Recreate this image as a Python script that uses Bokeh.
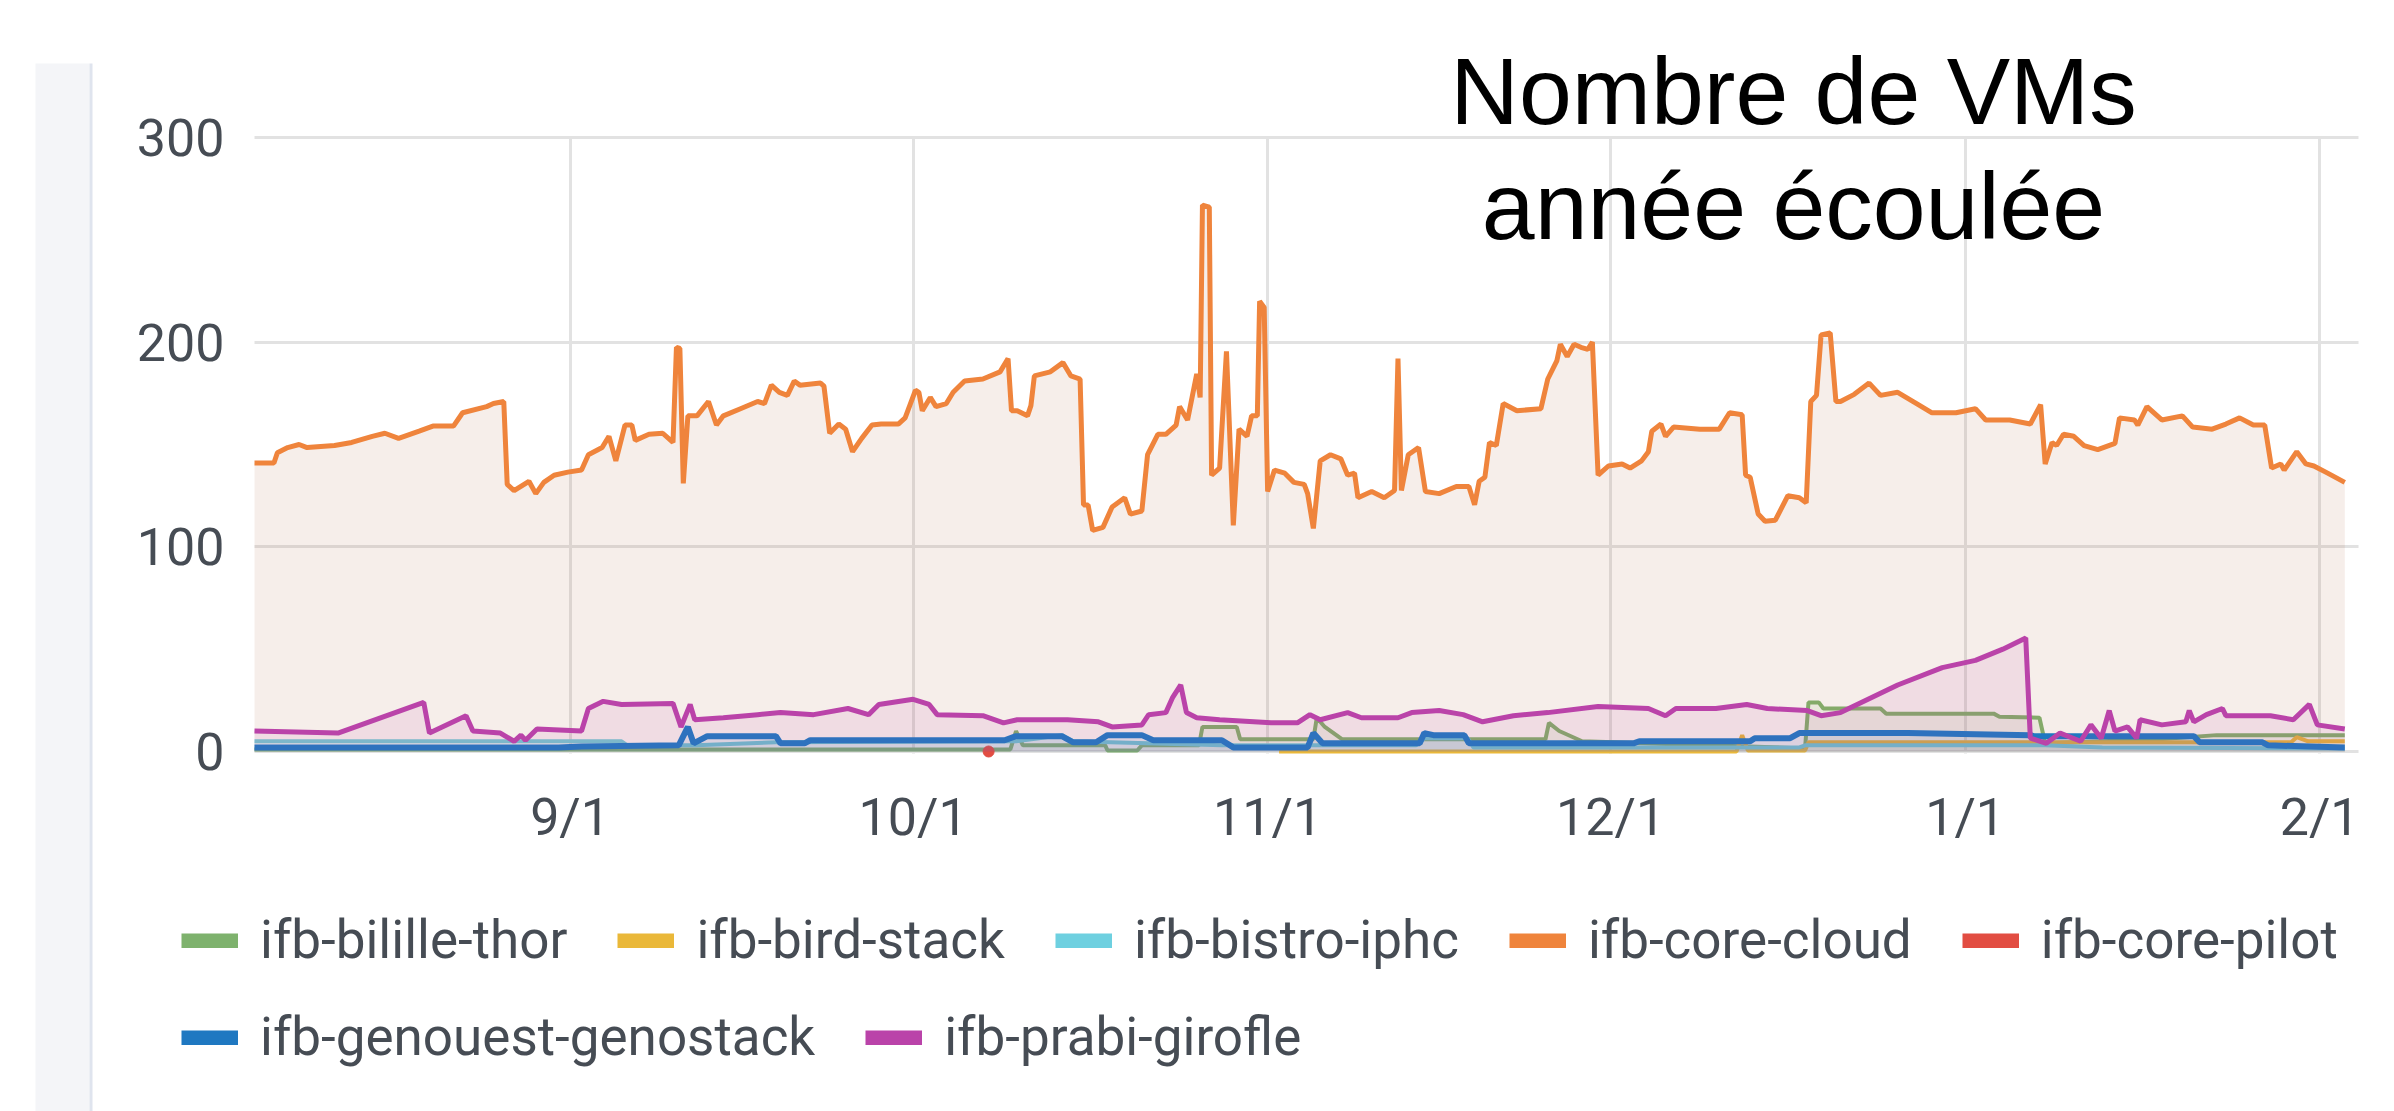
from bokeh.plotting import figure
from bokeh.models import Range1d, FixedTicker, Legend, LegendItem, Label, BoxAnnotation
from bokeh.embed import file_html
from bokeh.resources import INLINE

# x = days since Aug 1 (month starts used as ticks)
tick_days = [31, 61, 92, 122, 153, 184]
tick_labels = ["9/1", "10/1", "11/1", "12/1", "1/1", "2/1"]
y_ticks = [0, 100, 200, 300]

names = ["ifb-bilille-thor", "ifb-bird-stack", "ifb-bistro-iphc", "ifb-core-cloud",
         "ifb-core-pilot", "ifb-genouest-genostack", "ifb-prabi-girofle"]
colors = ["#7EB26D", "#EAB839", "#6ED0E0", "#EF843C", "#E24D42", "#1F78C1", "#BA43A9"]

bilille_t = [3.4, 69.5, 70.0, 70.6, 77.8, 78.0, 80.6, 81.0, 86.0, 86.3, 89.3, 89.6, 96.0, 96.3, 97.0,
             98.5, 116.3, 116.6, 117.5, 119.5, 139.0, 139.3, 140.2, 140.6, 145.6, 146.1, 155.5,
             156.0, 159.5, 160.0, 170.0, 175.0, 186.2]
bilille_v = [1, 1, 10, 3, 3, 0.5, 0.5, 3, 3, 12, 12, 6, 6, 16.5, 12,
             6, 6, 14, 10, 5, 1.5, 24, 24, 21, 21, 18.5, 18.5,
             17, 16.5, 4, 6, 8, 8]

bird_t = [93.0, 133.0, 133.5, 134.0, 139.0, 139.3, 181.5, 182.0, 183.0, 186.2]
bird_v = [0, 0, 8, 0.5, 0.5, 4.5, 4.5, 7, 5, 5]

bistro_t = [3.4, 35.5, 36.0, 42.0, 49.0, 70.0, 72.0, 74.0, 75.0, 88.0, 105.0, 105.7, 109.5, 110.0,
            138.5, 139.0, 160.0, 165.0, 186.2]
bistro_v = [5, 5, 3, 3, 4.5, 5, 6.5, 8, 5, 3, 3, 6.5, 6.5, 2,
            2, 3, 3, 2, 1.5]

core_cloud_t = [3.4, 5.1, 5.4, 6.3, 7.3, 8.0, 10.4, 11.9, 13.7, 14.8, 16.0, 17.8, 19.0, 20.8, 21.6,
                23.7, 24.3, 25.2, 25.5, 26.1, 27.4, 28.0, 28.7, 29.6, 30.8, 32.0, 32.6, 33.8, 34.4,
                35.0, 35.8, 36.4, 36.7, 37.9, 39.1, 40.0, 40.3, 40.6, 40.9, 41.3, 42.1, 43.1, 43.8,
                44.4, 45.9, 47.4, 48.0, 48.6, 49.3, 50.0, 50.6, 51.1, 52.9, 53.2, 53.7, 54.5, 55.1,
                55.7, 56.5, 57.4, 58.2, 59.7, 60.3, 61.2, 61.5, 61.8, 62.5, 63.0, 63.9, 64.5, 65.5,
                67.1, 68.6, 69.3, 69.6, 70.1, 71.0, 71.3, 71.6, 73.0, 74.1, 74.8, 75.6, 75.9, 76.3,
                76.7, 77.6, 78.4, 79.5, 80.0, 81.0, 81.5, 82.4, 83.1, 84.0, 84.3, 85.0, 85.8, 86.1,
                86.3, 86.9, 87.1, 87.8, 88.4, 89.0, 89.5, 90.2, 90.6, 91.1, 91.3, 91.7, 92.0, 92.6,
                93.5, 94.3, 95.2, 95.5, 96.0, 96.6, 97.5, 98.4, 99.0, 99.6, 99.9, 101.1, 102.2, 103.1,
                103.4, 103.7, 104.3, 105.2, 105.8, 107.0, 108.5, 109.6, 110.1, 110.5, 111.0, 111.4,
                112.0, 112.6, 113.8, 115.9, 116.5, 117.3, 117.6, 118.2, 118.8, 119.4, 120.0, 120.4,
                120.9, 121.8, 123.0, 123.7, 124.7, 125.3, 125.6, 126.4, 126.8, 127.5, 129.8, 131.5,
                132.4, 133.5, 133.8, 134.2, 134.9, 135.5, 136.4, 137.5, 138.5, 139.1, 139.5, 140.0,
                140.4, 141.2, 141.7, 142.1, 143.3, 144.6, 145.6, 147.1, 148.9, 150.1, 152.2, 153.9,
                154.8, 156.9, 158.7, 159.6, 160.0, 160.6, 161.0, 161.6, 162.5, 163.4, 164.6, 166.1,
                166.5, 167.8, 168.1, 168.9, 170.2, 172.0, 172.9, 174.6, 175.8, 177.0, 178.2, 179.2,
                179.8, 180.6, 180.9, 182.0, 182.8, 183.5, 184.7, 186.2]
core_cloud_v = [141, 141, 146, 148.5, 150, 148.5, 149.5, 151, 154, 155.5, 153, 156.5, 159, 159, 165.5,
                168.5, 170, 171, 130.5, 127.5, 132, 126, 131.5, 135, 136.5, 137.5, 145, 148.5, 154,
                142, 159.5, 159.5, 152, 155, 155.5, 151, 197.5, 197, 131, 164, 164, 171, 159.5,
                164, 167.5, 171, 170, 179, 175.5, 174, 181, 179, 180, 178.5, 155.5, 160, 157.5,
                146.5, 153, 159.5, 160, 160, 163, 176.5, 175.5, 166.5, 173, 168.5, 170, 175.5, 181,
                182, 185.5, 192, 166.5, 166.5, 164, 169, 183.5, 185.5, 190, 183.5, 182, 120.5, 120.5,
                108, 109.5, 119.5, 124, 116, 117.5, 145, 155, 155, 159.5, 168.5, 162, 184.5, 173,
                267, 266, 135, 138.5, 195.5, 110.5, 157.5, 154, 164, 164, 220, 217, 127, 137.5,
                136, 131.5, 130.5, 126, 109, 142, 145, 143, 135, 136, 124, 127, 124, 127.5,
                192, 127.5, 145, 148.5, 127, 126, 129.5, 129.5, 120.5, 132, 134, 151,
                149.5, 170, 166.5, 167.5, 182, 191, 199, 193, 199, 197.5, 196.5, 200,
                135, 139.5, 140.5, 138.5, 142, 146.5, 156.5, 160, 154, 158.5, 157.5, 157.5,
                165.5, 164.5, 135, 134, 116, 112.5, 113, 125, 124, 121.5, 171, 174,
                203.5, 204.5, 171, 171, 174.5, 180, 174, 175.5, 169.5, 165.5, 165.5, 167.5,
                162, 162, 160, 169.5, 140.5, 151, 149.5, 155, 154, 149.5, 147.5, 150.5,
                163, 162, 159.5, 168.5, 162, 164, 158.5, 157.5, 160, 163, 159.5, 159.5,
                138.5, 140.5, 137.5, 146.5, 140.5, 139.5, 136, 131.5]

core_pilot_t = [67.6]
core_pilot_v = [0]

genouest_t = [3.4, 30.0, 32.0, 40.5, 41.3, 41.8, 43.0, 49.0, 49.4, 51.5, 52.0, 69.0, 70.0, 74.0,
              75.0, 77.0, 78.0, 81.0, 82.0, 88.0, 89.0, 95.5, 96.0, 96.8, 105.3, 105.7, 106.5,
              109.2, 109.6, 124.0, 124.5, 134.2, 134.6, 137.7, 138.5, 142.0, 148.0, 158.7, 159.0,
              173.0, 173.5, 179.0, 179.5, 186.2]
genouest_v = [2, 2, 2.5, 3, 12, 4, 7.5, 7.5, 4, 4, 5.5, 5.5, 7.5, 7.5,
              4.5, 4.5, 8, 8, 5.5, 5.5, 2, 2, 9, 4, 4, 9, 8,
              8, 4, 4, 5, 5, 6.5, 6.5, 9, 9, 9, 8, 7.5,
              7.5, 4.5, 4.5, 3, 2]

prabi_t = [3.4, 10.7, 18.2, 18.7, 21.9, 22.5, 24.9, 26.1, 26.7, 27.1, 28.1, 32.0, 32.6, 33.9, 35.5,
           40.0, 40.7, 41.5, 41.9, 44.4, 47.4, 49.4, 52.3, 55.3, 57.1, 58.0, 61.0, 62.4, 63.1,
           67.1, 68.9, 70.1, 74.5, 77.2, 78.4, 81.0, 81.6, 83.1, 83.7, 84.4, 84.9, 85.8, 87.8,
           92.3, 94.6, 95.7, 96.6, 99.0, 100.2, 103.4, 104.6, 107.0, 109.1, 110.8, 113.5, 116.5,
           120.9, 125.3, 126.8, 127.7, 131.2, 133.9, 135.7, 139.2, 140.4, 142.1, 147.1, 151.0,
           153.9, 156.3, 158.3, 158.7, 160.1, 161.3, 163.1, 164.0, 164.9, 165.6, 166.1, 167.2,
           168.0, 168.3, 170.2, 172.3, 172.6, 173.0, 174.1, 175.5, 175.8, 179.7, 181.7, 183.1,
           183.8, 186.2]
prabi_v = [10, 9, 24, 9, 17.5, 10, 9, 5, 8, 5.5, 11, 10, 21, 24.5, 23,
           23.5, 12, 23, 15.5, 16.5, 18, 19, 18, 21, 18, 23, 25.5, 23, 18,
           17.5, 14, 15.5, 15.5, 14.5, 12, 13, 18, 19, 26.5, 32.5, 19, 16.5, 15.5,
           14, 14, 18, 15.5, 19, 16.5, 16.5, 19, 20, 18, 14.5, 17.5, 19,
           22, 21, 17.5, 21, 21, 23, 21, 20, 17.5, 19, 32.5, 41,
           44.5, 50, 55.5, 6.5, 4, 9, 5, 13, 6.5, 20, 10, 12,
           6.5, 15.5, 13, 14.5, 20, 14.5, 18, 21, 17.5, 17.5, 15.5, 23,
           13, 11]

series_t = [bilille_t, bird_t, bistro_t, core_cloud_t, core_pilot_t, genouest_t, prabi_t]
series_v = [bilille_v, bird_v, bistro_v, core_cloud_v, core_pilot_v, genouest_v, prabi_v]

TEXT = "#464c54"
FONT = "Roboto"
W, H = 2394, 1111

# data window: x 3.4..187.4 -> px 254..2358 ; y 0..300 -> px 751..137
X0, X1, PX0, PX1 = 3.4, 187.4, 254, 2358
kx = (PX1 - PX0) / (X1 - X0)
ky = (751 - 137) / 300.0
p = figure(width=W, height=H, output_backend="svg", toolbar_location=None,
           x_range=Range1d(X0 - PX0 / kx, X1 + (W - PX1) / kx),
           y_range=Range1d(0 - (H - 751) / ky, 300 + 137 / ky),
           min_border=0, min_border_left=0, min_border_right=0,
           min_border_top=0, min_border_bottom=0)
p.outline_line_color = None
p.background_fill_color = "white"
p.border_fill_color = "white"

for ax in (p.xaxis[0], p.yaxis[0]):
    ax.axis_line_color = None
    ax.major_tick_line_color = None
    ax.minor_tick_line_color = None
    ax.major_label_text_font = FONT
    ax.major_label_text_font_size = "52px"
    ax.major_label_text_color = TEXT
p.xaxis.ticker = FixedTicker(ticks=tick_days)
p.xaxis.major_label_overrides = dict(zip(tick_days, tick_labels))
p.xaxis.fixed_location = -1
p.xaxis.major_label_standoff = 27
p.yaxis.ticker = FixedTicker(ticks=y_ticks)
p.yaxis.fixed_location = X0
p.yaxis.major_label_standoff = 24

p.xgrid.ticker = FixedTicker(ticks=tick_days)
p.ygrid.ticker = FixedTicker(ticks=y_ticks)
GRID = "#e2e2e2"
try:
    p.xgrid[0].cross_bounds = (-1, 300)
    p.ygrid[0].cross_bounds = (X0, X1)
    for g in (p.xgrid[0], p.ygrid[0]):
        g.grid_line_color = GRID
        g.grid_line_width = 3
except AttributeError:
    p.xgrid.visible = False
    p.ygrid.visible = False
    p.segment(x0=tick_days, x1=tick_days, y0=[-1] * len(tick_days), y1=[300] * len(tick_days),
              line_color=GRID, line_width=3, level="underlay")
    p.segment(x0=[X0] * len(y_ticks), x1=[X1] * len(y_ticks), y0=y_ticks, y1=y_ticks,
              line_color=GRID, line_width=3, level="underlay")

# left sidebar strip of the dashboard (screen units measured from bottom-left of canvas)
p.add_layout(BoxAnnotation(left=35, right=89, bottom=-10, top=H - 63,
                           left_units="screen", right_units="screen",
                           top_units="screen", bottom_units="screen",
                           fill_color="#f4f5f8", fill_alpha=1, line_color=None, level="underlay"))
p.add_layout(BoxAnnotation(left=89, right=92, bottom=-10, top=H - 63,
                           left_units="screen", right_units="screen",
                           top_units="screen", bottom_units="screen",
                           fill_color="#dfe4ee", fill_alpha=1, line_color=None, level="underlay"))

fill_cols = ["#7EB26D", "#EAB839", "#6ED0E0", "#b8704f", "#E24D42", "#1F78C1", "#BA43A9"]
fill_alphas = [0.1, 0.1, 0.1, 0.12, 0.1, 0.1, 0.1]
widths = [4, 4, 4, 5, 4, 6, 5]

for i, name in enumerate(names):
    t, v = series_t[i], series_v[i]
    if len(t) > 1:
        p.varea(x=t, y1=[0] * len(t), y2=v, fill_color=fill_cols[i], fill_alpha=fill_alphas[i])
        p.line(t, v, line_color=colors[i], line_width=widths[i])
    else:
        p.scatter(t, v, size=11, color=colors[i])

# legend swatch renderers (kept outside the visible window; only their legend glyph shows)
dummies = [p.line(x=[-100, -99], y=[-1000, -1000], line_color=c, line_width=15) for c in colors]


def make_legend(idx, loc):
    return Legend(items=[LegendItem(label=names[i], renderers=[dummies[i]]) for i in idx],
                  orientation="horizontal", location=loc,
                  glyph_width=57, glyph_height=15, label_standoff=22, spacing=50,
                  padding=0, margin=0, border_line_color=None, background_fill_alpha=0,
                  label_text_font=FONT, label_text_font_size="53px", label_text_color=TEXT,
                  label_height=70)


p.add_layout(make_legend([0, 1, 2, 3, 4], (181, H - 975)))
p.add_layout(make_legend([5, 6], (181, H - 1072)))

# title
p.add_layout(Label(x=1793, y=H - 90, x_units="screen", y_units="screen", text="Nombre de VMs",
                   text_align="center", text_baseline="alphabetic", text_font="Liberation Sans",
                   text_font_size="95px", text_color="black"))
p.add_layout(Label(x=1793, y=H - 205, x_units="screen", y_units="screen", text="année écoulée",
                   text_align="center", text_baseline="alphabetic", text_font="Liberation Sans",
                   text_font_size="95px", text_color="black"))

open("out.html", "w").write(file_html(p, INLINE))
